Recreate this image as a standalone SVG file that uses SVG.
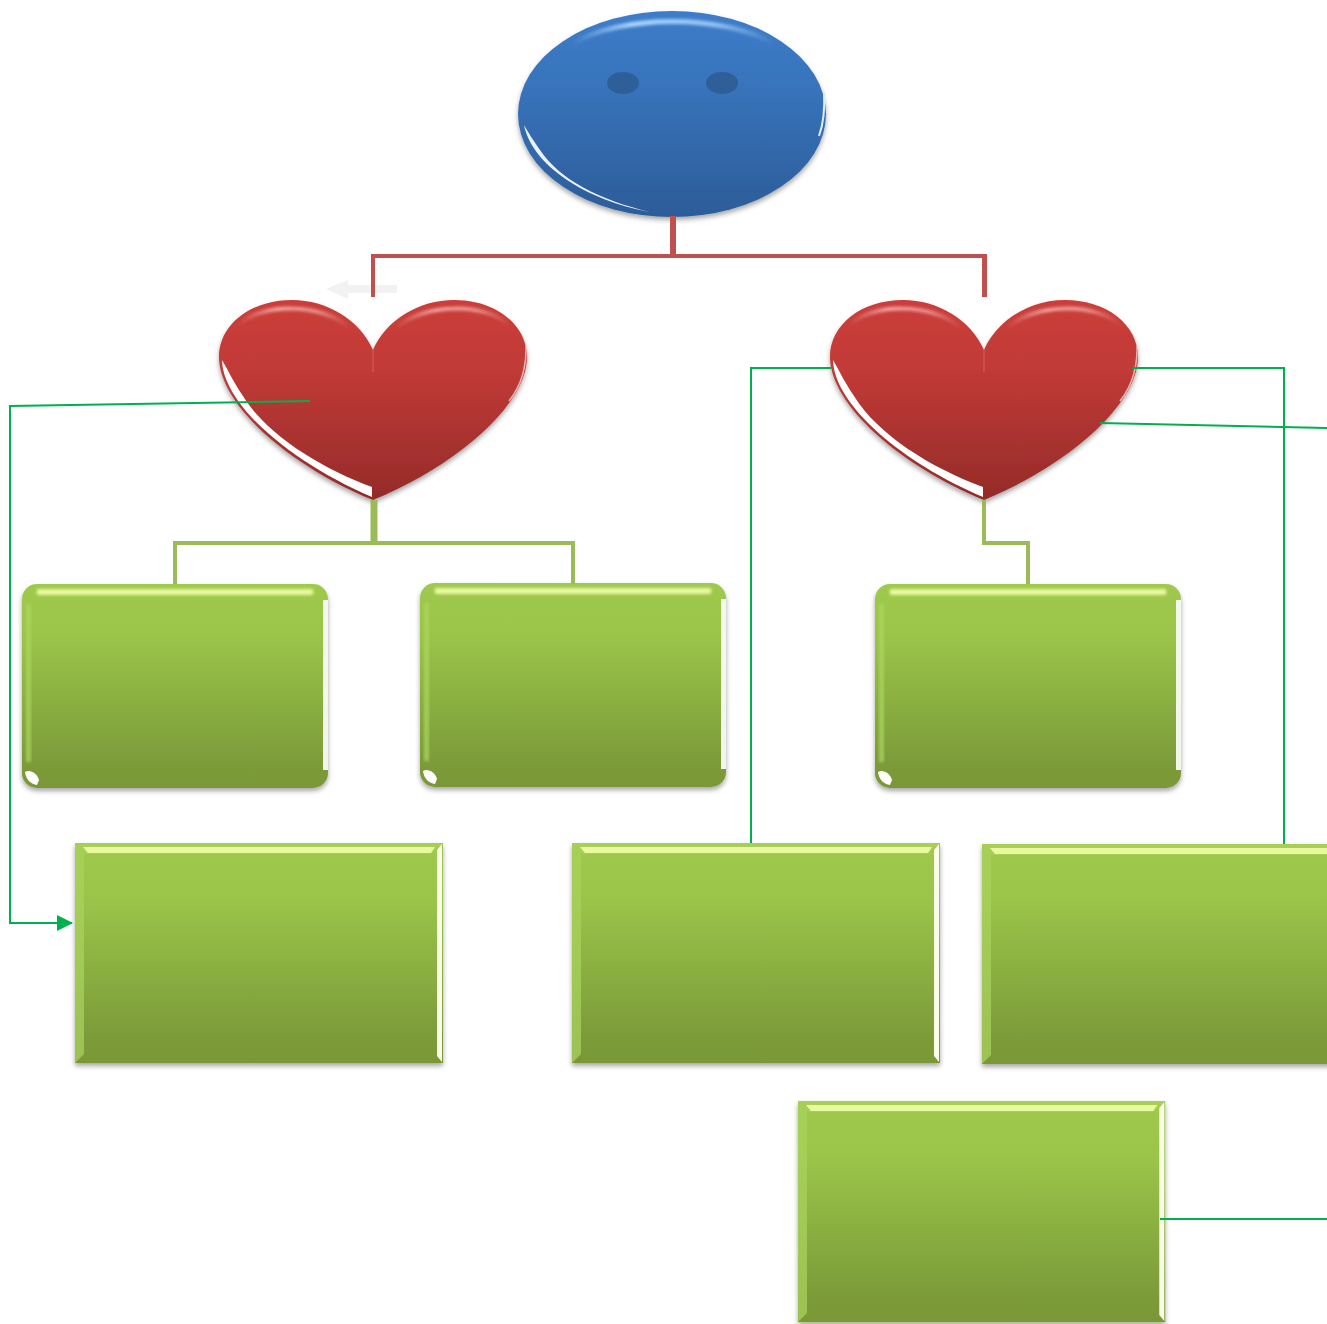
<svg xmlns="http://www.w3.org/2000/svg" xmlns:xlink="http://www.w3.org/1999/xlink" width="1327" height="1324" viewBox="0 0 1327 1324">
<style>
.red{fill:none;stroke:#C0504D}
.lime{fill:none;stroke:#9BBB59}
.link{fill:none;stroke:#00B050;stroke-width:2}
.soft{filter:url(#blur)}
.fine{filter:url(#fine)}
.eye{fill:#2E5F99}
</style>
<defs>
<linearGradient id="gBlue" x1="0" y1="0" x2="0" y2="1"><stop offset="0" stop-color="#3D7CC9"/><stop offset=".35" stop-color="#3874BC"/><stop offset="1" stop-color="#2C5C98"/></linearGradient>
<linearGradient id="gRed" x1="0" y1="0" x2="0" y2="1"><stop offset="0" stop-color="#CB3D3A"/><stop offset=".35" stop-color="#C13A37"/><stop offset="1" stop-color="#942B29"/></linearGradient>
<linearGradient id="gGreen" x1="0" y1="0" x2="0" y2="1"><stop offset="0" stop-color="#9FC94D"/><stop offset=".25" stop-color="#9AC549"/><stop offset=".9" stop-color="#7B9A39"/><stop offset="1" stop-color="#7A9838"/></linearGradient>
<linearGradient id="gFadeB" x1="0" y1="0" x2="1" y2="0"><stop offset="0" stop-color="#A8D4FF" stop-opacity="0"/><stop offset=".3" stop-color="#A8D4FF"/><stop offset=".7" stop-color="#A8D4FF" stop-opacity=".8"/><stop offset="1" stop-color="#A8D4FF" stop-opacity="0"/></linearGradient>
<linearGradient id="gFadeR" x1="0" y1="0" x2="1" y2="0"><stop offset="0" stop-color="#F3A5A2" stop-opacity="0"/><stop offset=".35" stop-color="#F3A5A2"/><stop offset=".7" stop-color="#F3A5A2" stop-opacity=".8"/><stop offset="1" stop-color="#F3A5A2" stop-opacity="0"/></linearGradient>
<filter id="shadow" x="-10%" y="-10%" width="120%" height="120%"><feDropShadow dx="0" dy="3" stdDeviation="2.5" flood-color="#000" flood-opacity=".35"/></filter>
<filter id="blur" x="-20%" y="-50%" width="140%" height="200%"><feGaussianBlur stdDeviation="1.4"/></filter>
<filter id="fine" x="-20%" y="-20%" width="140%" height="140%"><feGaussianBlur stdDeviation=".7"/></filter>
<marker id="arrow" markerUnits="userSpaceOnUse" markerWidth="16" markerHeight="16" refX="15" refY="8" orient="auto"><path d="M0,0L16,8L0,16Z" fill="#00B050"/></marker>
<path id="heartShape" d="M373,350C360,320 327,300 292,300C250,300 219,325 219,357C219,405 290,466 373,500C456,466 527,405 527,357C527,325 496,300 454,300C419,300 386,320 373,350Z"/>
<clipPath id="heartClip"><use xlink:href="#heartShape"/></clipPath>
<g id="heart">
<use xlink:href="#heartShape" fill="url(#gRed)" filter="url(#shadow)"/>
<g clip-path="url(#heartClip)">
<path class="soft" d="M238,326C258,303 322,302 350,328" fill="none" stroke="url(#gFadeR)" stroke-width="4"/>
<path class="soft" d="M396,328C424,302 488,303 510,326" fill="none" stroke="url(#gFadeR)" stroke-width="4"/>
<path class="fine" d="M222,360C223,405 292,463 372,497L372,487C320,468 266,434 243,396C234,383 229,372 222,360Z" fill="#FFF"/>
<path class="fine" d="M526,342C527,365 522,385 509,401" fill="none" stroke="#F2B8B6" stroke-width="1.5"/>
</g>
<path d="M373,350V372" stroke="#DE8C8A" stroke-width="1" opacity=".5"/>
</g>
<g id="roundBox">
<rect width="306" height="204" rx="15" fill="url(#gGreen)" filter="url(#shadow)"/>
<path class="soft" d="M16,5H290Q293,8 290,11H16Q13,8 16,5Z" fill="#E9F9A0"/>
<path class="soft" d="M4,20H9V178H4Z" fill="#ADD75E" opacity=".75"/>
<path class="fine" d="M301,16H306V186H301Z" fill="#FFF" opacity=".9"/>
<path class="fine" d="M3,188C8,185 15,189 17,196L15,201C9,200 4,196 3,188Z" fill="#FFF"/>
</g>
<g id="sharpBox">
<rect width="368" height="220" fill="url(#gGreen)" filter="url(#shadow)"/>
<path class="fine" d="M0,0L9,9V211L0,220Z" fill="#A9D25C" opacity=".75"/>
<path d="M0,0H368L356,11H10Z" fill="#A8CF55"/>
<path class="fine" d="M8,4H360L356,10H13Z" fill="#E9F9A0"/>
<path class="fine" d="M367,1V219L362,213V7Z" fill="#FAFEE8"/>
</g>
</defs>
<rect width="1327" height="1324" fill="#FFF"/>
<g id="node-oval">
<ellipse cx="672" cy="114" rx="154" ry="103" fill="url(#gBlue)" filter="url(#shadow)"/>
<path class="soft" d="M572,44C620,14 724,14 775,44" fill="none" stroke="url(#gFadeB)" stroke-width="5"/>
<path class="fine" d="M524,125C532,165 585,200 650,212C600,200 560,180 540,150C533,140 528,132 524,125Z" fill="#FFF" opacity=".9"/>
<path class="fine" d="M824,92C825,110 823,125 819,136" fill="none" stroke="#DCEEFF" stroke-width="2"/>
<ellipse class="eye" cx="623" cy="83" rx="16" ry="11"/>
<ellipse class="eye" cx="722" cy="83" rx="16" ry="11"/>
</g>
<g id="node-heart-left"><use xlink:href="#heart"/></g>
<g id="node-heart-right"><use xlink:href="#heart" transform="translate(611 0)"/></g>
<g id="node-box-1"><use xlink:href="#roundBox" transform="translate(22 584)"/></g>
<g id="node-box-2"><use xlink:href="#roundBox" transform="translate(420 583)"/></g>
<g id="node-box-3"><use xlink:href="#roundBox" transform="translate(875 584)"/></g>
<g id="node-box-4"><use xlink:href="#sharpBox" transform="translate(75 843)"/></g>
<g id="node-box-5"><use xlink:href="#sharpBox" transform="translate(572 843)"/></g>
<g id="node-box-6"><use xlink:href="#sharpBox" transform="translate(982 844)"/></g>
<g id="node-box-7"><use xlink:href="#sharpBox" transform="translate(798 1101) scale(.998 1.005)"/></g>
<g id="connectors">
<path d="M397,285H348V280L326,289L348,299V293H397Z" fill="#F2F2F2"/>
<path class="red" stroke-width="6" d="M673,216V256"/>
<path class="red" stroke-width="4" d="M373,297V256H987"/>
<path class="red" stroke-width="5" d="M984.5,254V297"/>
<path class="lime" stroke-width="7" d="M374,500V543"/>
<path class="lime" stroke-width="4" d="M175,584V543H573V584"/>
<path class="lime" stroke-width="4" d="M984,500V543H1028V584"/>
<path class="link" marker-end="url(#arrow)" d="M310,401L10,406V923H72"/>
<path class="link" d="M831,368H751V843"/>
<path class="link" d="M1132,368H1284V844"/>
<path class="link" d="M1100,423L1327,428"/>
<path class="link" d="M1160,1219H1327"/>
</g>
</svg>
